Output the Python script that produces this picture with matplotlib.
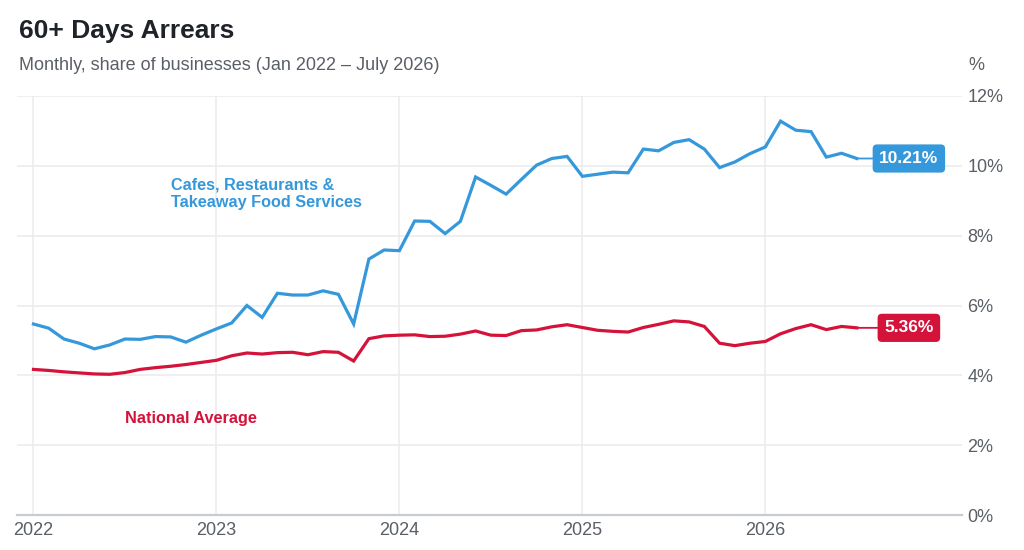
import numpy as np
from matplotlib import pyplot as plt

plt.rcParams['font.family'] = ['Liberation Sans', 'DejaVu Sans']

# Datos mensuales, enero 2022 - julio 2026 (% de negocios con 60+ dias de atraso)
cafes = [5.47, 5.35, 5.04, 4.92, 4.76, 4.87, 5.04, 5.03, 5.11, 5.10, 4.95, 5.15,
         5.33, 5.50, 6.00, 5.66, 6.35, 6.30, 6.30, 6.42, 6.32, 5.47, 7.33, 7.59,
         7.57, 8.42, 8.41, 8.06, 8.41, 9.68, 9.44, 9.19, 9.61, 10.02, 10.21, 10.27,
         9.70, 9.76, 9.82, 9.80, 10.48, 10.43, 10.67, 10.75, 10.48, 9.95, 10.11, 10.35,
         10.54, 11.28, 11.02, 10.98, 10.25, 10.36, 10.21]
national = [4.17, 4.14, 4.10, 4.07, 4.04, 4.03, 4.08, 4.17, 4.22, 4.26, 4.31, 4.37,
            4.43, 4.56, 4.64, 4.61, 4.65, 4.66, 4.59, 4.68, 4.66, 4.41, 5.05, 5.13,
            5.15, 5.16, 5.11, 5.12, 5.18, 5.27, 5.15, 5.14, 5.28, 5.30, 5.39, 5.45,
            5.37, 5.29, 5.26, 5.24, 5.37, 5.46, 5.56, 5.53, 5.40, 4.92, 4.85, 4.92,
            4.97, 5.19, 5.34, 5.45, 5.31, 5.40, 5.36]
years = ['2022', '2023', '2024', '2025', '2026']
y_ticks = [0, 2, 4, 6, 8, 10, 12]

BLUE = '#3498db'
RED = '#d4123a'
GRID = '#ececef'
GRAY = '#5a5f66'

months = np.arange(len(cafes))

fig = plt.figure(figsize=(10.24, 5.5), dpi=100)
ax = fig.add_axes([17 / 1024, 35 / 550, 945 / 1024, 419 / 550])

ax.plot(months, cafes, color=BLUE, lw=2.3, solid_joinstyle='miter', zorder=3)
ax.plot(months, national, color=RED, lw=2.3, solid_joinstyle='miter', zorder=3)

ax.set_xlim(-1.08, 60.9)
ax.set_ylim(0, 12)

ax.set_xticks(np.arange(len(years)) * 12)
ax.set_xticklabels(years)
ax.set_yticks(y_ticks)
ax.set_yticklabels([f'{t}%' for t in y_ticks])

ax.yaxis.tick_right()
ax.tick_params(axis='both', length=0, labelsize=13, labelcolor=GRAY)
ax.tick_params(axis='y', pad=4)
ax.tick_params(axis='x', pad=5)
for lbl in ax.get_yticklabels():
    lbl.set_horizontalalignment('left')

ax.grid(True, color=GRID, lw=1.2)
ax.set_axisbelow(True)
for s in ['top', 'left', 'right']:
    ax.spines[s].set_visible(False)
ax.spines['bottom'].set_color('#c8cbd0')
ax.spines['bottom'].set_linewidth(1.6)

# Etiquetas del ultimo valor
for serie, color in [(cafes, BLUE), (national, RED)]:
    ax.annotate(f'{serie[-1]:.2f}%', xy=(months[-1], serie[-1]),
                xytext=(37.5, 0), textcoords='offset points',
                ha='center', va='center', fontsize=12.5, fontweight='bold', color='white',
                bbox=dict(boxstyle='round,pad=0.38,rounding_size=0.25', fc=color, ec='none'),
                arrowprops=dict(arrowstyle='-', color=color, lw=1.3, shrinkA=0, shrinkB=0))

ax.text(9.03, 9.21, 'Cafes, Restaurants &\nTakeaway Food Services', color=BLUE,
        fontsize=11.7, fontweight='bold', ha='left', va='center', linespacing=1.2)
ax.text(6.0, 2.75, 'National Average', color=RED,
        fontsize=11.7, fontweight='bold', ha='left', va='center')

fig.text(19 / 1024, 1 - 31 / 550, '60+ Days Arrears', fontsize=19, fontweight='bold',
         color='#1f2328', va='center', ha='left')
fig.text(19 / 1024, 1 - 66 / 550, 'Monthly, share of businesses (Jan 2022 \u2013 July 2026)',
         fontsize=13, color=GRAY, va='center', ha='left')
fig.text(968 / 1024, 1 - 66 / 550, '%', fontsize=13, color=GRAY, va='center', ha='left')

fig.savefig('out.png', dpi=100)
